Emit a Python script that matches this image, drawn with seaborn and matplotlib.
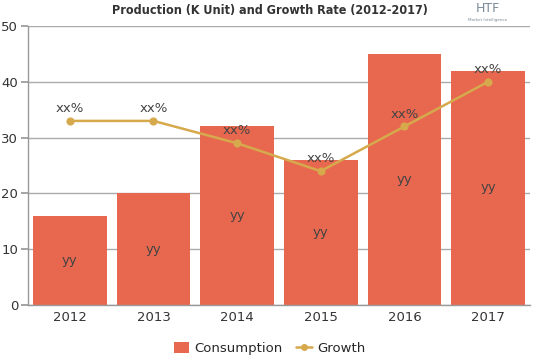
import matplotlib
matplotlib.use("Agg")
import matplotlib.pyplot as plt
import seaborn as sns
import pandas as pd
from matplotlib.patches import Patch
from matplotlib.lines import Line2D

years = ["2012", "2013", "2014", "2015", "2016", "2017"]
consumption = [16, 20, 32, 26, 45, 42]
growth = [33, 33, 29, 24, 32, 40]
bar_labels = ["yy"] * 6
growth_labels = ["xx%"] * 6

bar_color = "#E8684F"
line_color = "#D6A94C"

sns.set_theme(style="white")
plt.rcParams['font.family'] = ['DejaVu Sans']

df = pd.DataFrame({"year": years, "Consumption": consumption, "Growth": growth})

fig = plt.figure(figsize=(5.39, 3.59), dpi=100)
ax = fig.add_axes([0.052, 0.150, 0.931, 0.7776])

sns.barplot(data=df, x="year", y="Consumption", color=bar_color, width=0.88,
            saturation=1, ax=ax, zorder=2, edgecolor="none", linewidth=0)
sns.pointplot(data=df, x="year", y="Growth", color=line_color, ax=ax,
              markers="o", markersize=4.5, linewidth=1.8, zorder=3)

for i, (c, g) in enumerate(zip(consumption, growth)):
    ax.text(i, c / 2, bar_labels[i], ha="center", va="center", fontsize=9.5,
            color="#444444", zorder=5)
    ax.text(i, g + 2.2, growth_labels[i], ha="center", va="center", fontsize=9.5,
            color="#444444", zorder=5)

ax.set_ylim(0, 50)
ax.set_xlim(-0.5, 5.5)
ax.set_yticks([0, 10, 20, 30, 40, 50])
ax.set_xlabel("")
ax.set_ylabel("")
ax.yaxis.grid(True, color="#AAAAAA", linewidth=1, zorder=0)
ax.set_axisbelow(True)
for s in ["top", "right"]:
    ax.spines[s].set_visible(False)
for s in ["left", "bottom"]:
    ax.spines[s].set_color("#999999")
    ax.spines[s].set_linewidth(1)
ax.tick_params(axis="y", length=5, color="#999999", labelsize=9.5, labelcolor="#333333", pad=2, left=True)
ax.tick_params(axis="x", length=0, labelsize=9.5, labelcolor="#333333", pad=4)

fig.text(0.50, 0.972, "Production (K Unit) and Growth Rate (2012-2017)",
         ha="center", va="center", fontsize=9, fontweight="bold",
         family=["DejaVu Sans"], stretch="condensed", color="#333333")
fig.text(0.905, 0.975, "HTF", ha="center", va="center", fontsize=9,
         color="#7a8a99")
fig.text(0.905, 0.945, "Market Intelligence", ha="center", va="center", fontsize=3,
         color="#7a8a99")

handles = [Patch(facecolor=bar_color, edgecolor="none"),
           Line2D([0], [0], color=line_color, marker="o", markersize=4, linewidth=1.8)]
fig.legend(handles, ["Consumption", "Growth"], loc="center", bbox_to_anchor=(0.5, 0.03),
           ncol=2, frameon=False, fontsize=9.5, handlelength=1.2, handleheight=1.0,
           columnspacing=1.0, handletextpad=0.4)

fig.savefig("out.png", dpi=100)
